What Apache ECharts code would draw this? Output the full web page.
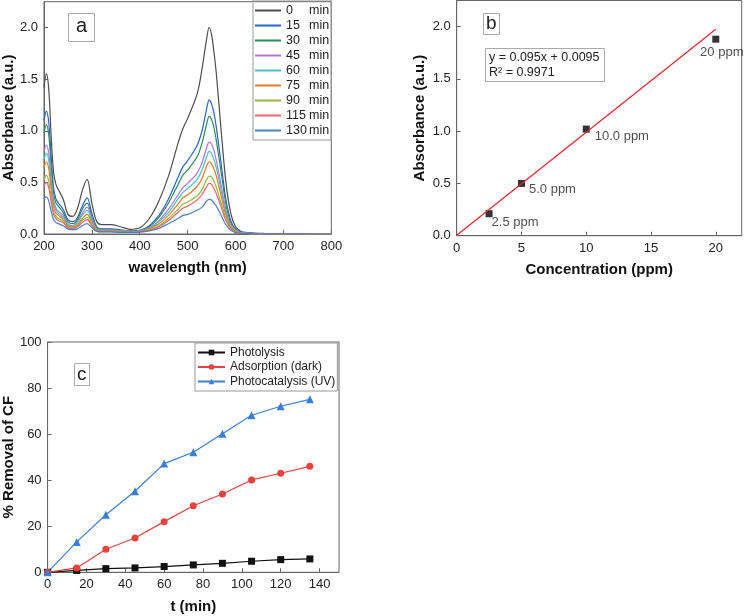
<!DOCTYPE html>
<html>
<head>
<meta charset="utf-8">
<script src="https://cdn.jsdelivr.net/npm/echarts@6/dist/echarts.min.js"></script>
<style>
  html, body { margin: 0; padding: 0; background: #fff; }
  #chart { width: 749px; height: 616px; }
</style>
</head>
<body>
<div id="chart"></div>
<script>
// panel a: UV-vis spectra over irradiation time
const wavelengths = [200,205,210,215,220,225,230,240,250,260,270,280,290,300,310,320,340,360,380,400,420,440,460,480,490,500,520,530,540,545,550,555,560,570,580,590,600,610,620,640,660,700,800];
const spectraNames = ['0 min','15 min','30 min','45 min','60 min','75 min','90 min','115 min','130 min'];
const spec0   = [1.42,1.55,1.40,0.95,0.60,0.48,0.43,0.34,0.19,0.17,0.25,0.42,0.53,0.30,0.12,0.09,0.09,0.07,0.045,0.06,0.15,0.32,0.56,0.88,1.02,1.12,1.36,1.60,1.90,2.00,1.93,1.76,1.55,1.00,0.50,0.20,0.07,0.03,0.015,0.008,0.005,0.002,0];
const spec15  = [1.10,1.19,1.08,0.75,0.45,0.34,0.30,0.24,0.14,0.12,0.16,0.27,0.35,0.20,0.07,0.05,0.05,0.04,0.03,0.035,0.08,0.18,0.34,0.55,0.65,0.71,0.86,1.00,1.22,1.30,1.26,1.17,1.03,0.68,0.33,0.13,0.05,0.02,0.01,0.005,0.003,0.001,0];
const spec30  = [0.98,1.06,0.96,0.66,0.40,0.30,0.27,0.21,0.12,0.10,0.14,0.24,0.30,0.17,0.06,0.045,0.045,0.035,0.03,0.033,0.07,0.16,0.30,0.48,0.57,0.62,0.75,0.88,1.07,1.14,1.11,1.03,0.90,0.60,0.29,0.11,0.045,0.02,0.01,0.005,0.003,0.001,0];
const spec45  = [0.80,0.86,0.78,0.54,0.33,0.25,0.22,0.18,0.10,0.08,0.12,0.20,0.26,0.15,0.05,0.04,0.04,0.03,0.025,0.03,0.06,0.13,0.24,0.38,0.45,0.49,0.59,0.69,0.84,0.89,0.87,0.81,0.71,0.47,0.23,0.09,0.04,0.015,0.008,0.004,0.002,0.001,0];
const spec60  = [0.72,0.78,0.71,0.49,0.30,0.23,0.20,0.16,0.09,0.07,0.11,0.18,0.23,0.13,0.045,0.035,0.035,0.03,0.025,0.028,0.055,0.12,0.21,0.34,0.40,0.44,0.53,0.62,0.75,0.80,0.78,0.72,0.64,0.42,0.21,0.08,0.035,0.015,0.008,0.004,0.002,0.001,0];
const spec75  = [0.64,0.70,0.63,0.43,0.26,0.20,0.18,0.14,0.08,0.065,0.09,0.15,0.19,0.11,0.04,0.03,0.03,0.025,0.02,0.025,0.05,0.10,0.18,0.29,0.35,0.38,0.46,0.54,0.66,0.70,0.68,0.63,0.56,0.37,0.18,0.07,0.03,0.012,0.006,0.003,0.002,0.001,0];
const spec90  = [0.52,0.57,0.51,0.35,0.22,0.17,0.15,0.12,0.07,0.055,0.08,0.13,0.16,0.09,0.035,0.025,0.025,0.02,0.02,0.022,0.04,0.08,0.15,0.24,0.29,0.31,0.37,0.43,0.53,0.56,0.55,0.51,0.45,0.30,0.15,0.06,0.025,0.01,0.005,0.003,0.001,0.001,0];
const spec115 = [0.46,0.50,0.45,0.31,0.19,0.15,0.13,0.11,0.06,0.05,0.07,0.11,0.14,0.08,0.03,0.022,0.022,0.018,0.018,0.02,0.035,0.07,0.13,0.21,0.25,0.27,0.33,0.38,0.46,0.49,0.48,0.44,0.39,0.26,0.13,0.05,0.02,0.01,0.005,0.002,0.001,0.001,0];
const spec130 = [0.34,0.36,0.32,0.22,0.14,0.11,0.10,0.08,0.05,0.04,0.05,0.08,0.10,0.06,0.025,0.02,0.02,0.015,0.015,0.018,0.03,0.055,0.10,0.15,0.18,0.19,0.23,0.26,0.32,0.335,0.33,0.30,0.27,0.18,0.09,0.035,0.015,0.007,0.004,0.002,0.001,0.001,0];
const spectra = [spec0, spec15, spec30, spec45, spec60, spec75, spec90, spec115, spec130];
const spectraColors = ['#4d4d4d','#2a62c9','#2e8b57','#b373e0','#40c4c8','#f07820','#94b940','#f0646e','#4a7fc6'];

// panel b: calibration
const concentrations = [2.5, 5, 10, 20];
const calibAbs = [0.21, 0.50, 1.02, 1.88];
const calibLabels = ['2.5 ppm', '5.0 ppm', '10.0 ppm', '20 ppm'];
const fitLine = [[0, 0.005], [20, 1.975]];

// panel c: removal vs time
const times = [0, 15, 30, 45, 60, 75, 90, 105, 120, 135];
const photolysis = [0, 0.8, 1.6, 1.9, 2.5, 3.2, 3.9, 4.8, 5.5, 5.8];
const adsorption = [0, 1.9, 10, 14.9, 22, 28.9, 34, 40.1, 43, 46];
const photocatalysis = [0, 13.2, 25, 35.2, 47.2, 52.1, 60.2, 68.2, 72.1, 75.1];

const FONT = 'Liberation Sans';
const frame = '#666';

const labelStyle = (extra) => Object.assign({
    fontFamily: FONT, fontSize: 13, color: '#222', margin: 6
}, extra);

const axisCommon = (extra) => Object.assign({
    axisLine: { show: true, onZero: false, lineStyle: { color: frame, width: 1 } },
    axisTick: { show: true, inside: true, length: 4, lineStyle: { color: frame } },
    splitLine: { show: false },
    axisLabel: labelStyle({}),
    nameLocation: 'middle',
    nameTextStyle: { fontFamily: FONT, fontSize: 15, fontWeight: 'bold', color: '#111' }
}, extra);

const chart = echarts.init(document.getElementById('chart'), null, { renderer: 'canvas' });

const series = [];
spectra.forEach((vals, i) => {
    series.push({
        name: spectraNames[i],
        type: 'line',
        xAxisIndex: 0, yAxisIndex: 0,
        showSymbol: false,
        smooth: 0.35,
        data: wavelengths.map((w, j) => [w, vals[j]]),
        lineStyle: { color: spectraColors[i], width: 1.2 },
        itemStyle: { color: spectraColors[i] }
    });
});

series.push({
    type: 'line',
    xAxisIndex: 1, yAxisIndex: 1,
    showSymbol: false,
    data: fitLine,
    lineStyle: { color: '#e0262e', width: 1.2 }
});

const calibOffsets = [[-6, 9], [-1, 6], [0, 7], [6, -2]];
series.push({
    type: 'scatter',
    xAxisIndex: 1, yAxisIndex: 1,
    symbol: 'rect',
    symbolSize: 7,
    itemStyle: { color: '#000' },
    data: concentrations.map((c, i) => ({
        value: [c, calibAbs[i]],
        label: {
            show: true,
            formatter: calibLabels[i],
            position: i === 3 ? 'bottom' : 'right',
            offset: calibOffsets[i],
            fontFamily: FONT, fontSize: 13, color: '#222'
        }
    }))
});

const cSeries = [
    { name: 'Photolysis', data: photolysis, color: '#111111', symbol: 'rect', size: 7 },
    { name: 'Adsorption (dark)', data: adsorption, color: '#e8423f', symbol: 'circle', size: 7 },
    { name: 'Photocatalysis (UV)', data: photocatalysis, color: '#3a7fd5', symbol: 'triangle', size: 8 }
];
cSeries.forEach(s => {
    series.push({
        name: s.name,
        type: 'line',
        xAxisIndex: 2, yAxisIndex: 2,
        symbol: s.symbol,
        symbolSize: s.size,
        showSymbol: true,
        data: times.map((t, j) => [t, s.data[j]]),
        lineStyle: { color: s.color, width: 1.2 },
        itemStyle: { color: s.color }
    });
});

chart.setOption({
    animation: false,
    backgroundColor: '#fff',
    title: [
        { text: 'a', left: 68, top: 13, padding: [3, 8, 6, 8], borderColor: '#aaa', borderWidth: 1,
          textStyle: { fontFamily: FONT, fontSize: 20, fontWeight: 'normal', color: '#222' } },
        { text: 'b', left: 483, top: 13, padding: [1, 3, 2, 3], borderColor: '#aaa', borderWidth: 1,
          textStyle: { fontFamily: FONT, fontSize: 19, fontWeight: 'normal', color: '#222' } },
        { text: 'c', left: 74, top: 363, padding: [2, 3, 2, 3], borderColor: '#aaa', borderWidth: 1,
          textStyle: { fontFamily: FONT, fontSize: 19, fontWeight: 'normal', color: '#222' } },
        { text: 'y = 0.095x + 0.0095\nR² = 0.9971', left: 485, top: 48, padding: [2, 5, 2, 4],
          borderColor: '#aaa', borderWidth: 1,
          textStyle: { fontFamily: FONT, fontSize: 12.5, fontWeight: 'normal', color: '#222', lineHeight: 15 } }
    ],
    legend: [
        {
            data: spectraNames,
            orient: 'vertical',
            left: 253, top: 0,
            padding: [4, 2, 3, 2],
            itemGap: 2,
            itemWidth: 26, itemHeight: 2,
            icon: 'rect',
            borderColor: '#999', borderWidth: 1,
            textStyle: {
                fontFamily: FONT, fontSize: 12.5, color: '#222', lineHeight: 13,
                rich: { n: { width: 23, fontFamily: FONT, fontSize: 12.5, color: '#222' },
                        m: { fontFamily: FONT, fontSize: 12.5, color: '#222' } }
            },
            formatter: name => {
                const parts = name.split(' ');
                return '{n|' + parts[0] + '}{m|' + parts[1] + '}';
            }
        },
        {
            data: cSeries.map(s => s.name),
            orient: 'vertical',
            left: 195, top: 343,
            padding: [3, 2, 3, 2],
            itemGap: 1.5,
            itemWidth: 27, itemHeight: 7,
            borderColor: '#999', borderWidth: 1,
            textStyle: { fontFamily: FONT, fontSize: 12, color: '#222', lineHeight: 13 }
        }
    ],
    grid: [
        { left: 43.3, top: 1.7, width: 288, height: 232.3, show: true, borderColor: frame, borderWidth: 1 },
        { left: 456.7, top: 0.5, width: 285, height: 235.2, show: true, borderColor: frame, borderWidth: 1 },
        { left: 45.7, top: 342, width: 293.3, height: 230.3, show: true, borderColor: frame, borderWidth: 1 }
    ],
    xAxis: [
        axisCommon({ gridIndex: 0, type: 'value', min: 200, max: 800, interval: 100,
            name: 'wavelength (nm)', nameGap: 26 }),
        axisCommon({ gridIndex: 1, type: 'value', min: 0, max: 22, interval: 5,
            name: 'Concentration (ppm)', nameGap: 27,
            axisLabel: labelStyle({ showMaxLabel: false }) }),
        axisCommon({ gridIndex: 2, type: 'value', min: 0, max: 150, interval: 20,
            name: 't (min)', nameGap: 27,
            axisLabel: labelStyle({ showMaxLabel: false }) })
    ],
    yAxis: [
        axisCommon({ gridIndex: 0, type: 'value', min: 0, max: 2.25, interval: 0.5,
            name: 'Absorbance (a.u.)', nameGap: 27,
            axisLabel: labelStyle({ showMaxLabel: false, formatter: v => v.toFixed(1) }) }),
        axisCommon({ gridIndex: 1, type: 'value', min: 0, max: 2.25, interval: 0.5,
            name: 'Absorbance (a.u.)', nameGap: 29,
            axisLabel: labelStyle({ showMaxLabel: false, formatter: v => v.toFixed(1) }) }),
        axisCommon({ gridIndex: 2, type: 'value', min: 0, max: 100, interval: 20,
            name: '% Removal of CF', nameGap: 31 })
    ],
    series
});
</script>
</body>
</html>
